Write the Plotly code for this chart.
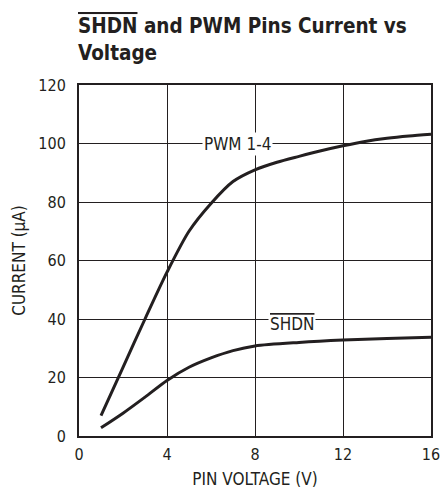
import plotly.graph_objects as go

# Data
pwm_v = [1, 2, 3, 4, 5, 6, 7, 8, 9, 10, 11, 12, 13, 14, 15, 16]
pwm_i = [7, 23.5, 40, 56, 70, 79.5, 87, 91, 93.6, 95.6, 97.5, 99.2, 100.7, 101.8, 102.6, 103.2]
shdn_v = [1, 2, 3, 4, 5, 6, 7, 8, 10, 12, 14, 16]
shdn_i = [2.8, 7.8, 13.3, 19, 23.5, 26.7, 29.2, 30.8, 32.0, 32.8, 33.3, 33.8]

x_ticks = [0, 4, 8, 12, 16]
y_ticks = [0, 20, 40, 60, 80, 100, 120]

FONT = "DejaVu Sans Condensed, Liberation Sans, Arial, sans-serif"
INK = "#231f20"

fig = go.Figure()
fig.add_trace(go.Scatter(x=pwm_v, y=pwm_i, mode="lines",
                         line=dict(color=INK, width=3, shape="spline", smoothing=0.8),
                         showlegend=False, hoverinfo="skip"))
fig.add_trace(go.Scatter(x=shdn_v, y=shdn_i, mode="lines",
                         line=dict(color=INK, width=3, shape="spline", smoothing=0.8),
                         showlegend=False, hoverinfo="skip"))

fig.add_annotation(x=7.2, y=100, text="PWM 1-4", showarrow=False,
                   font=dict(family=FONT, size=17, color=INK),
                   bgcolor="white", borderpad=1)
fig.add_annotation(x=9.7, y=40, yshift=-5, text="<span style='text-decoration:overline'>SHDN</span>",
                   showarrow=False, font=dict(family=FONT, size=17, color=INK),
                   bgcolor="white", borderpad=1)

fig.update_layout(
    width=441, height=492,
    margin=dict(l=79, r=10, t=85, b=56),
    paper_bgcolor="white", plot_bgcolor="white",
    font=dict(family=FONT, size=16, color=INK),
    title=dict(
        text="<b><span style='text-decoration:overline'>SHDN</span> and PWM Pins Current vs<br>Voltage</b>",
        x=78 / 441, xanchor="left", y=1 - 33 / 492, yanchor="top",
        font=dict(family=FONT, size=20.5, color=INK),
    ),
    xaxis=dict(
        range=[0, 16], tickvals=x_ticks, ticktext=[str(v) for v in x_ticks],
        showgrid=True, gridcolor=INK, gridwidth=1,
        showline=True, linecolor=INK, linewidth=2, mirror=True,
        ticks="outside", ticklen=3, tickcolor="rgba(0,0,0,0)",
        zeroline=False, automargin=False,
        title=dict(text="PIN VOLTAGE (V)", font=dict(family=FONT, size=17, color=INK), standoff=10),
        tickfont=dict(family=FONT, size=16, color=INK),
    ),
    yaxis=dict(
        range=[0, 120], tickvals=y_ticks, ticktext=[str(v) for v in y_ticks],
        showgrid=True, gridcolor=INK, gridwidth=1,
        showline=True, linecolor=INK, linewidth=2, mirror=True,
        ticks="outside", ticklen=8, tickcolor="rgba(0,0,0,0)",
        zeroline=False, automargin=False,
        title=dict(text="CURRENT (μA)", font=dict(family=FONT, size=17, color=INK), standoff=8),
        tickfont=dict(family=FONT, size=16, color=INK),
    ),
)

# Remove the browser's default 8px body margin so the 441x492 figure fits the window exactly.
fig.write_html("out.html", config={"displayModeBar": False},
               post_script="document.body.style.margin='0';document.body.style.overflow='hidden';")
